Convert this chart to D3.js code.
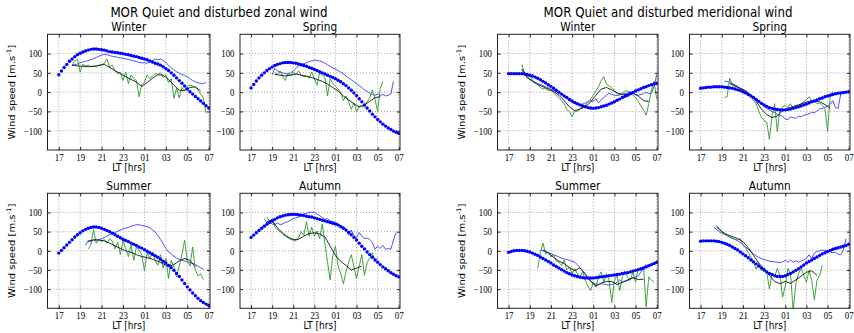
<!DOCTYPE html>
<html><head><meta charset="utf-8">
<script src="https://cdn.jsdelivr.net/npm/d3@7"></script>
<style>
html,body{margin:0;padding:0;background:#fff;}
svg{display:block;}
</style></head><body>
<svg id="chart" width="854" height="333"></svg>
<script>
// ---------------- DATA ----------------
const seasons = ["Winter", "Spring", "Summer", "Autumn"];
const groupTitles = ["MOR Quiet and disturbed zonal wind", "MOR Quiet and disturbed meridional wind"];
const xTickValues = [17, 19, 21, 23, 25, 27, 29, 31];   // LT hours (25 = 01 ...)
const yTickValues = [-100, -50, 0, 50, 100];
const modelStart = 17, fineStep = 0.25, meanStep = 0.5;

// start hours of the measured series [Winter, Spring, Summer, Autumn]
const zonalQuietStart = [18.25, 19.0, 19.5, 18.25];
const zonalDistStart  = [18.25, 19.25, 19.75, 18.5];
const zonalMeanStart  = [18.25, 19.25, 19.75, 18.5];
const meridQuietStart = [18.25, 19.25, 20.0, 18.25];
const meridDistStart  = [18.25, 19.25, 19.75, 18.5];
const meridMeanStart  = [18.25, 19.75, 20.25, 18.5];

// ---- zonal ----
const zonalWinterModel = [45,55,64,72,80,86,92,97,101,104,107,109,111,112,112,111,110,
  109,107,105,104,103,102,101,100,98,97,95,93,92,90,88,86,
  84,81,78,75,73,70,66,61,56,50,44,37,30,23,16,8,
  1,-5,-11,-17,-23,-29,-35,-41];
const zonalWinterQuiet = [70,71,73,76,78,80,82,84,87,90,93,96,98,97,95,93,92,90,89,88,86,85,83,81,79,77,76,76,75,78,82,86,84,86,82,76,70,63,58,53,49,46,43,40,35,30,27,24,23,22,25];
const zonalWinterDist = [70,82,85,52,72,68,70,66,68,65,70,72,74,86,65,70,55,48,52,30,52,22,45,35,30,-12,20,25,45,35,42,48,46,50,38,45,25,35,-16,10,-15,12,5,15,18,16,12,5,-5,-14,-55];
const zonalWinterMean = [70,68,67,66,67,69,72,64,56,48,40,33,26,15,25,36,45,44,33,18,5,4,12,14,3];

const zonalSpringModel = [11,20,29,37,44,50,56,61,65,69,72,74,76,77,77,77,76,
  75,73,71,69,67,64,62,59,56,53,50,47,44,41,38,35,
  31,27,22,17,11,5,-2,-9,-17,-25,-33,-41,-49,-57,-64,-71,
  -77,-83,-88,-93,-97,-101,-104,-107];
const zonalSpringQuiet = [45,62,55,52,50,48,47,50,55,62,68,72,74,76,79,81,83,82,81,79,75,71,67,63,60,56,52,47,42,37,32,27,22,17,12,6,2,-3,-6,-8,-5,-9,-6,-10,-8,-5,28];
const zonalSpringDist = [50,46,55,40,30,50,42,52,46,55,44,40,43,36,52,35,18,50,44,38,-10,35,22,15,8,0,-22,-10,-25,-45,-28,-50,-38,-35,-40,-25,-15,6,-18,-50,10,28];
const zonalSpringMean = [46,44,42,44,47,44,41,38,33,28,21,12,3,-10,-20,-30,-38,-33,-24,-14,-12];

const zonalSummerModel = [-6,1,8,15,22,29,36,42,47,52,56,59,61,62,62,61,59,
  56,53,50,46,42,38,34,30,27,24,20,17,14,10,7,3,
  -1,-5,-9,-13,-17,-22,-27,-32,-38,-44,-51,-59,-67,-76,-85,-94,
  -102,-110,-117,-124,-130,-135,-139,-142];
const zonalSummerQuiet = [14,27,25,27,28,29,32,35,38,42,45,48,51,54,57,59,61,64,66,68,68,66,65,63,60,55,49,40,30,18,6,-3,-8,-14,-19,-22,-24,-27,-28,-31,-33,-36,-40,-44,-49];
const zonalSummerDist = [5,15,55,20,30,24,30,20,32,25,5,22,-10,28,5,-15,15,-25,10,2,-10,-52,-5,-20,-3,-25,-38,-10,-45,-20,-72,-25,-42,-68,-40,-10,28,-25,-40,10,-50,-65,-60,-75];
const zonalSummerMean = [24,29,28,26,20,13,6,0,-4,-10,-15,-18,-22,-27,-34,-41,-36,-26,-20,-25,-42];

const zonalAutumnModel = [35,41,47,53,59,64,69,74,78,82,86,89,91,93,94,95,95,
  95,94,93,92,90,89,88,86,84,82,80,78,76,74,72,70,
  67,63,59,54,48,42,35,28,20,12,5,-3,-10,-17,-24,-30,
  -36,-42,-47,-52,-57,-61,-65,-68];
const zonalAutumnQuiet = [84,72,76,70,68,73,68,70,74,76,80,84,86,88,92,96,98,100,101,100,96,92,86,82,84,78,76,74,70,66,62,58,42,54,40,34,48,38,32,33,30,22,4,12,6,14,4,6,4,28,48];
const zonalAutumnDist = [88,76,84,62,55,50,44,38,34,30,28,26,34,50,40,76,38,62,38,52,32,70,18,-30,-76,-12,12,-40,-60,-86,-55,-30,-10,-42,-73,-40,-10,-64,-30,-20,-5,-25,-18];
const zonalAutumnMean = [76,80,60,46,36,29,30,38,45,47,44,36,12,-12,-28,-38,-50,-45,-40];

// ---- meridional ----
const meridWinterModel = [48,48,48,48,48,48,47,46,44,42,39,36,32,28,24,19,15,
  10,5,0,-5,-10,-14,-19,-23,-27,-30,-33,-36,-38,-40,-41,-42,
  -41,-40,-38,-36,-34,-31,-28,-25,-21,-18,-14,-11,-8,-4,-1,3,
  6,9,12,14,17,19,21,23];
const meridWinterQuiet = [58,48,40,34,30,26,22,20,17,14,11,7,4,1,-3,-7,-11,-16,-21,-26,-30,-32,-33,-31,-28,-25,-22,-24,-17,-28,-20,-14,-8,-3,-6,-8,-9,-7,-5,-4,-2,1,-2,-6,-8,-6,-4,0,-4,-3,15,45];
const meridWinterDist = [72,50,38,45,30,24,20,12,8,10,4,6,-2,-8,-14,-22,-30,-45,-50,-64,-48,-50,-42,-38,-34,-25,-18,-8,4,14,30,40,20,16,12,4,-4,-6,-2,2,4,-2,-8,-14,-24,-36,-46,-60,-30,5,28,-18];
const meridWinterMean = [60,38,28,20,14,8,2,-8,-22,-38,-48,-44,-38,-26,-8,8,12,6,-2,-7,-5,-3,-10,-22,-24];

const meridSpringModel = [10,11,12,13,13,14,14,14,14,13,12,11,10,8,6,4,1,
  -2,-6,-10,-14,-19,-24,-29,-33,-37,-40,-42,-44,-45,-46,-46,-46,
  -45,-44,-42,-40,-38,-36,-33,-31,-28,-25,-23,-20,-17,-15,-12,-10,
  -8,-6,-4,-3,-2,-1,0,1];
const meridSpringQuiet = [28,28,25,22,19,15,10,6,1,-4,-8,-13,-19,-25,-31,-37,-42,-46,-50,-53,-57,-60,-62,-70,-72,-64,-66,-68,-62,-64,-60,-58,-56,-52,-54,-48,-44,-42,-40,-36,-32,-22,-40,-42,-4,-3,-1];
const meridSpringDist = [-14,-12,36,20,16,12,8,4,2,-4,-12,-22,-30,-50,-65,-74,-78,-122,-62,-30,-102,-45,-38,-34,-40,-30,-44,-34,-38,-30,-25,-20,-12,-24,-22,-30,-28,-35,-42,-102,-10,2];
const meridSpringMean = [22,16,10,4,-8,-24,-44,-58,-66,-62,-48,-42,-37,-33,-28,-24,-23,-25,-32,-42];

const meridSummerModel = [-4,-2,0,1,1,1,0,-1,-3,-6,-9,-12,-16,-20,-24,-28,-32,
  -37,-41,-45,-49,-53,-57,-60,-63,-65,-67,-69,-70,-71,-71,-71,-71,
  -70,-69,-68,-67,-66,-65,-64,-63,-62,-61,-59,-58,-57,-55,-53,-51,
  -49,-47,-45,-42,-39,-36,-33,-30];
const meridSummerQuiet = [2,0,-3,-5,-7,-10,-13,-16,-19,-21,-23,-25,-27,-30,-36,-44,-52,-60,-70,-78,-84,-87,-88,-86,-87,-88,-90,-88,-86,-82,-76,-82,-80,-78,-74,-71,-68,-65,-56,-44,-35];
const meridSummerDist = [-46,-5,20,-8,-4,-16,-10,-26,-30,-38,-24,-50,-42,-60,-46,-60,-68,-55,-78,-92,-104,-82,-95,-68,-55,-82,-60,-77,-135,-77,-64,-104,-68,-55,-68,-77,-55,-82,-46,-51,-42,-146,-68,-77,-82];
const meridSummerMean = [2,-5,-17,-27,-33,-44,-52,-44,-62,-80,-92,-84,-80,-80,-88,-82,-76,-70,-75,-74];

const meridAutumnModel = [25,26,26,26,26,26,25,24,22,20,17,14,10,6,2,-3,-8,
  -13,-18,-24,-29,-34,-40,-45,-50,-55,-59,-62,-65,-67,-67,-67,-65,
  -62,-59,-55,-51,-47,-42,-37,-32,-28,-24,-20,-16,-12,-8,-5,-2,
  1,4,6,8,10,12,14,17];
const meridAutumnQuiet = [61,56,50,46,43,40,36,33,30,26,22,16,10,4,-2,-8,-13,-17,-20,-23,-25,-27,-28,-29,-30,-31,-29,-25,-30,-24,-30,-26,-30,-27,-24,-20,-10,-20,-6,-2,0,2,1,-1,-3,-5,-4,-9,-10,2,32];
const meridAutumnDist = [66,58,50,44,40,35,32,30,28,32,14,8,-4,-16,-28,-48,-33,-52,-44,-56,-99,-60,-68,-46,-66,-121,-92,-46,-60,-158,-86,-60,-46,-64,-82,-51,-77,-128,-77,-64,-38];
const meridAutumnMean = [62,50,42,37,32,24,8,-12,-32,-48,-64,-80,-86,-80,-85,-76,-66,-56,-52,-64];

// ---------------- LAYOUT / STYLE ----------------
const SX = 0.9; // horizontal squeeze of text
const colBox = [[47.5, 210], [240, 400], [497.5, 658], [689.5, 850]];
const rowBox = [[34.3, 150], [193.3, 308.3]];
const xDomain = [15.95, 31.12];
const yDomain = [-150, 150];
const C = {model: "#0000ff", quiet: "#3b3bff", dist: "#2a9a2a", mean: "#111111"};

const svg = d3.select("#chart");
svg.append("rect").attr("width", 854).attr("height", 333).attr("fill", "#fff");

const groups = [
  {title: groupTitles[0], titleX: 219, cols: [0, 1],
   model: [zonalWinterModel, zonalSpringModel, zonalSummerModel, zonalAutumnModel],
   quiet: [zonalWinterQuiet, zonalSpringQuiet, zonalSummerQuiet, zonalAutumnQuiet],
   dist: [zonalWinterDist, zonalSpringDist, zonalSummerDist, zonalAutumnDist],
   mean: [zonalWinterMean, zonalSpringMean, zonalSummerMean, zonalAutumnMean],
   qs: zonalQuietStart, ds: zonalDistStart, ms: zonalMeanStart},
  {title: groupTitles[1], titleX: 668, cols: [2, 3],
   model: [meridWinterModel, meridSpringModel, meridSummerModel, meridAutumnModel],
   quiet: [meridWinterQuiet, meridSpringQuiet, meridSummerQuiet, meridAutumnQuiet],
   dist: [meridWinterDist, meridSpringDist, meridSummerDist, meridAutumnDist],
   mean: [meridWinterMean, meridSpringMean, meridSummerMean, meridAutumnMean],
   qs: meridQuietStart, ds: meridDistStart, ms: meridMeanStart}
];

function pts(vals, start, step) { return vals.map((v, i) => [start + i * step, v]); }

function addText(g, x, y, str, size, family, anchor) {
  return g.append("text")
    .attr("transform", `translate(${x},${y}) scale(${SX},1)`)
    .attr("text-anchor", anchor || "middle")
    .style("font-family", family || "'DejaVu Sans', sans-serif")
    .style("font-size", size + "px")
    .attr("fill", "#000")
    .text(str);
}

const hourFmt = h => String(((h % 24) + 24) % 24).padStart(2, "0");
let clipId = 0;

groups.forEach(G => {
  addText(svg, G.titleX, 16.5, G.title, 13.2);
  seasons.forEach((season, si) => {
    const col = G.cols[si % 2], row = Math.floor(si / 2);
    const [L, R] = colBox[col], [T, B] = rowBox[row];
    const x = d3.scaleLinear().domain(xDomain).range([L, R]);
    const y = d3.scaleLinear().domain(yDomain).range([B, T]);
    const g = svg.append("g");

    // grid
    const grid = g.append("g").attr("stroke", "#8a8a8a").attr("stroke-width", 0.8)
      .attr("stroke-dasharray", "1,2");
    grid.selectAll(".gx").data(xTickValues).join("line")
      .attr("x1", d => x(d)).attr("x2", d => x(d)).attr("y1", T).attr("y2", B);
    grid.selectAll(".gy").data(yTickValues).join("line")
      .attr("x1", L).attr("x2", R).attr("y1", d => y(d)).attr("y2", d => y(d));

    // data, clipped
    const cid = "clip" + (clipId++);
    g.append("clipPath").attr("id", cid).append("rect")
      .attr("x", L).attr("y", T).attr("width", R - L).attr("height", B - T);
    const dg = g.append("g").attr("clip-path", `url(#${cid})`);
    const line = d3.line().x(d => x(d[0])).y(d => y(d[1]));
    dg.append("path").datum(pts(G.quiet[si], G.qs[si], fineStep))
      .attr("d", line).attr("fill", "none").attr("stroke", C.quiet).attr("stroke-width", 0.9);
    dg.append("path").datum(pts(G.dist[si], G.ds[si], fineStep))
      .attr("d", line).attr("fill", "none").attr("stroke", C.dist).attr("stroke-width", 0.9);
    dg.append("path").datum(pts(G.mean[si], G.ms[si], meanStep))
      .attr("d", line).attr("fill", "none").attr("stroke", C.mean).attr("stroke-width", 0.9);
    dg.selectAll("circle").data(pts(G.model[si], modelStart, fineStep)).join("circle")
      .attr("cx", d => x(d[0])).attr("cy", d => y(d[1])).attr("r", 1.7).attr("fill", C.model);

    // axes
    const ax = g.append("g").attr("transform", `translate(0,${B})`)
      .call(d3.axisBottom(x).tickValues(xTickValues).tickFormat(hourFmt).tickSizeInner(-3).tickSizeOuter(0));
    const axT = g.append("g").attr("transform", `translate(0,${T})`)
      .call(d3.axisTop(x).tickValues(xTickValues).tickFormat("").tickSizeInner(-3).tickSizeOuter(0));
    const ay = g.append("g").attr("transform", `translate(${L},0)`)
      .call(d3.axisLeft(y).tickValues(yTickValues).tickSizeInner(-3).tickSizeOuter(0));
    const ayR = g.append("g").attr("transform", `translate(${R},0)`)
      .call(d3.axisRight(y).tickValues(yTickValues).tickFormat("").tickSizeInner(-3).tickSizeOuter(0));
    [ax, axT, ay, ayR].forEach(a => {
      a.select(".domain").remove();
      a.selectAll("line").attr("stroke", "#222");
    });
    ax.selectAll("text").attr("y", null).attr("dy", null)
      .attr("transform", `translate(0,10.8) scale(${SX},1)`)
      .style("font-family", "'Liberation Serif', serif").style("font-size", "9.8px").attr("fill", "#000");
    ay.selectAll("text").attr("x", null).attr("dy", null)
      .attr("transform", `translate(-5.5,3.3) scale(${SX},1)`)
      .style("font-family", "'Liberation Serif', serif").style("font-size", "9.8px").attr("fill", "#000");

    // frame
    g.append("rect").attr("x", L).attr("y", T).attr("width", R - L).attr("height", B - T)
      .attr("fill", "none").attr("stroke", "#222").attr("stroke-width", 1);

    // titles & labels
    addText(g, (L + R) / 2, T - 3.5, season, 11.8);
    addText(g, (L + R) / 2, B + 21, "LT [hrs]", 10);
    if (si % 2 === 0) {
      const yl = g.append("text")
        .attr("transform", `translate(${L - 32.5},${(T + B) / 2}) rotate(-90) scale(1,${SX})`)
        .attr("text-anchor", "middle")
        .style("font-family", "'DejaVu Sans', sans-serif").style("font-size", "10px").attr("fill", "#000");
      yl.append("tspan").text("Wind speed [m.s");
      yl.append("tspan").attr("dy", -4).style("font-size", "7px").text("-1");
      yl.append("tspan").attr("dy", 4).text("]");
    }
  });
});
</script>
</body></html>
